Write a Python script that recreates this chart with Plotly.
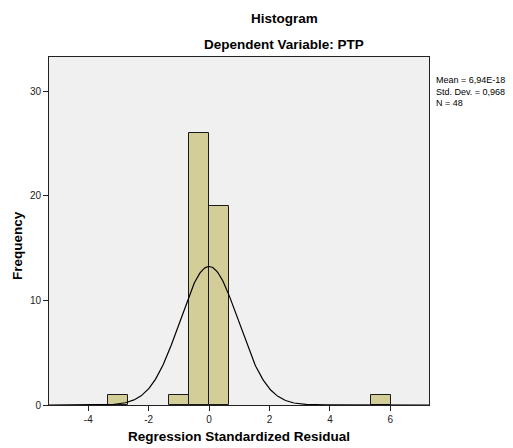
import plotly.graph_objects as go
import numpy as np

# Data
bin_width = 0.67
bin_index = [-5, -2, -1, 0, 8]          # bin left edge = index * width
counts = [1, 1, 26, 19, 1]
mean_val = 6.94e-18
std_val = 0.968
n_val = 48
x_ticks = [-4, -2, 0, 2, 4, 6]
x_tick_labels = ["-4", "-2", "0", "2", "4", "6"]
y_ticks = [0, 10, 20, 30]

W, H = 513, 448
L, R, T, B = 49, 84, 57, 43
pw, ph = W - L - R, H - T - B

def px_x(p):
    return (p - L) / pw

def px_y(p):
    return (H - B - p) / ph

centers = [(i + 0.5) * bin_width for i in bin_index]

fig = go.Figure()
fig.add_trace(go.Bar(
    x=centers, y=counts, width=bin_width,
    marker=dict(color="#D3CE97", line=dict(color="#1a1a1a", width=1)),
    hoverinfo="skip"))

xs = np.linspace(-5.3, 7.3, 400)
ys = n_val * bin_width / (std_val * np.sqrt(2 * np.pi)) * np.exp(-0.5 * ((xs - mean_val) / std_val) ** 2)
fig.add_trace(go.Scatter(x=xs, y=ys, mode="lines", line=dict(color="black", width=1.2), hoverinfo="skip"))

font = "Liberation Sans, Arial, sans-serif"
fig.update_layout(
    width=W, height=H, margin=dict(l=L, r=R, t=T, b=B),
    paper_bgcolor="white", plot_bgcolor="#F0F0F0",
    showlegend=False, bargap=0,
    font=dict(family=font, size=10, color="#222"),
    xaxis=dict(range=[-5.3, 7.28], tickvals=x_ticks, ticktext=x_tick_labels, ticks="outside", ticklen=5,
               tickcolor="#222", showline=True, linecolor="#222", linewidth=1, mirror=True,
               showgrid=False, zeroline=False, tickfont=dict(size=10, color="#222")),
    yaxis=dict(range=[0, 33.3], tickvals=y_ticks, ticks="outside", ticklen=5,
               tickcolor="#222", showline=True, linecolor="#222", linewidth=1, mirror=True,
               showgrid=False, zeroline=False, tickfont=dict(size=10, color="#222")),
)

annots = [
    dict(text="<b>Histogram</b>", x=px_x(284), y=px_y(18), size=13.5),
    dict(text="<b>Dependent Variable: PTP</b>", x=px_x(284), y=px_y(45), size=13.5),
    dict(text="<b>Regression Standardized Residual</b>", x=px_x(239), y=px_y(437), size=13.5),
]
for a in annots:
    fig.add_annotation(text=a["text"], x=a["x"], y=a["y"], xref="paper", yref="paper",
                       showarrow=False, xanchor="center", yanchor="middle",
                       font=dict(size=a["size"], color="black", family=font))

fig.add_annotation(text="<b>Frequency</b>", x=px_x(17), y=px_y(246), xref="paper", yref="paper",
                   showarrow=False, textangle=-90, xanchor="center", yanchor="middle",
                   font=dict(size=13.5, color="black", family=font))

stats = ["Mean = 6,94E-18", "Std. Dev. = 0,968", "N = 48"]
fig.add_annotation(text="<br>".join(stats), x=px_x(434), y=px_y(91), xref="paper", yref="paper",
                   showarrow=False, xanchor="left", yanchor="middle", align="left",
                   font=dict(size=9, color="black", family=font))

fig.write_html("out.html")
